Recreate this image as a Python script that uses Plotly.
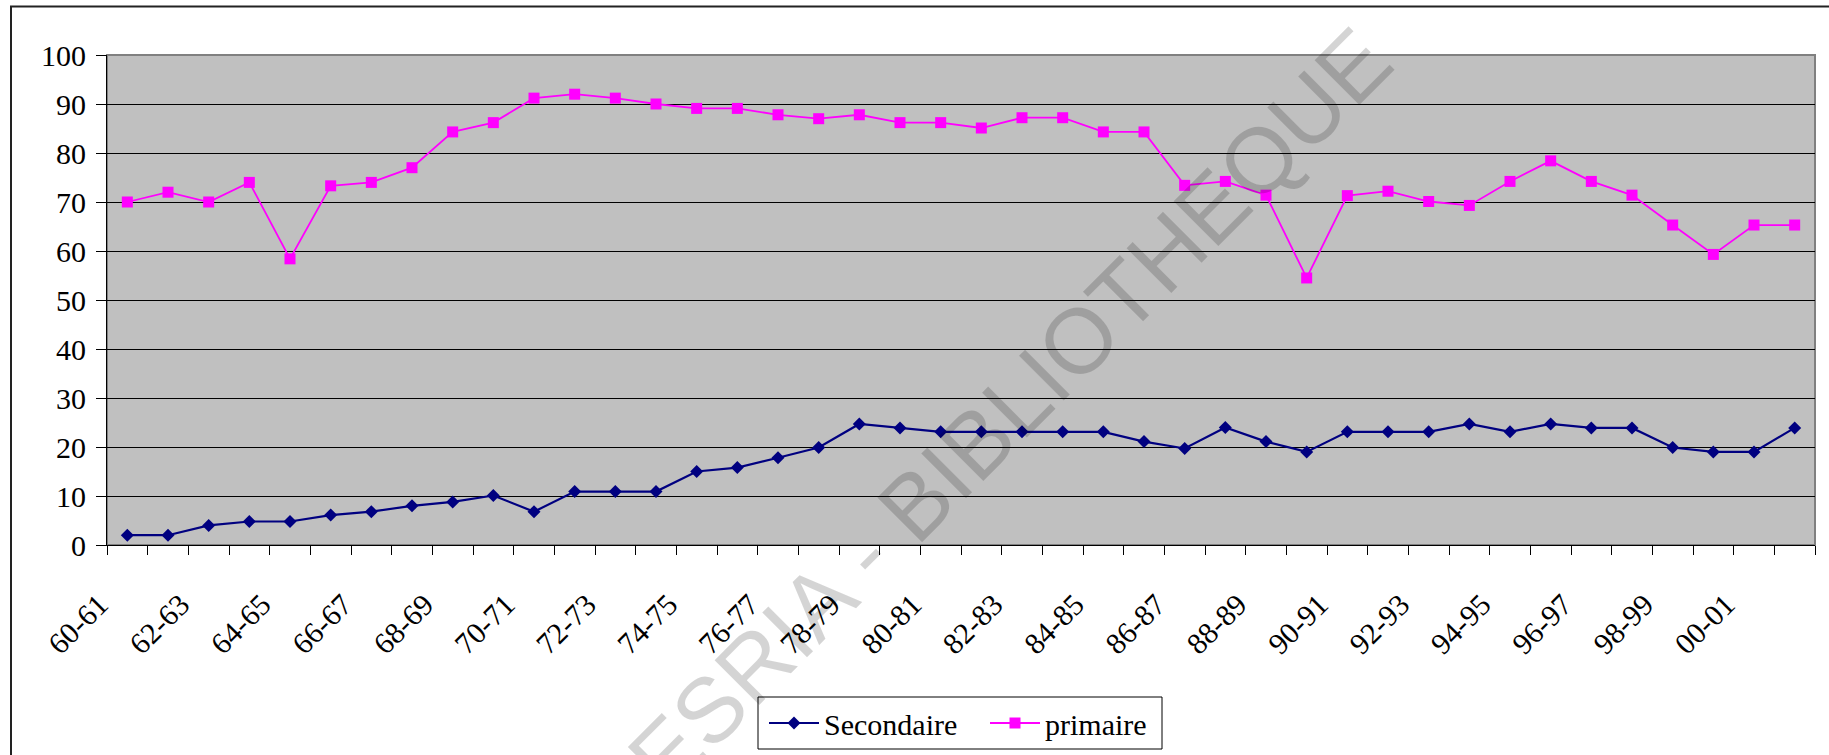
import plotly.graph_objects as go

categories = ["60-61", "61-62", "62-63", "63-64", "64-65", "65-66", "66-67", "67-68",
              "68-69", "69-70", "70-71", "71-72", "72-73", "73-74", "74-75", "75-76",
              "76-77", "77-78", "78-79", "79-80", "80-81", "81-82", "82-83", "83-84",
              "84-85", "85-86", "86-87", "87-88", "88-89", "89-90", "90-91", "91-92",
              "92-93", "93-94", "94-95", "95-96", "96-97", "97-98", "98-99", "99-00",
              "00-01", "01-02"]

secondaire = [2, 2, 4, 4.8, 4.8, 6.1, 6.8, 8, 8.8, 10.1, 6.8, 10.9, 10.9, 10.9, 15, 15.8,
              17.8, 19.9, 24.7, 23.9, 23.1, 23.1, 23.1, 23.1, 23.1, 21.1, 19.7, 24, 21.1, 19,
              23.1, 23.1, 23.1, 24.7, 23.1, 24.7, 23.9, 23.9, 19.9, 19, 19, 23.9]

primaire = [70, 72, 70, 74, 58.4, 73.3, 74, 77, 84.3, 86.2, 91.2, 92, 91.2, 90, 89.1, 89.1,
            87.8, 87, 87.8, 86.2, 86.2, 85.1, 87.2, 87.2, 84.3, 84.3, 73.4, 74.2, 71.4, 54.5,
            71.3, 72.2, 70.1, 69.3, 74.2, 78.4, 74.2, 71.4, 65.3, 59.3, 65.3, 65.3]

y_ticks = [0, 10, 20, 30, 40, 50, 60, 70, 80, 90, 100]
watermark = "CODESRIA - BIBLIOTHEQUE"

W, H = 1829, 755
L, R, T, B = 107, 1815, 55, 545

idx = list(range(len(categories)))
label_idx = idx[::2]

def px_x(v):
    return (v - L) / (R - L)

def px_y(v):
    return (B - v) / (B - T)

fig = go.Figure()
fig.add_trace(go.Scatter(
    x=idx, y=secondaire, name="Secondaire", mode="lines+markers",
    line=dict(color="#000080", width=2.2),
    marker=dict(symbol="diamond", size=10, color="#000080"),
))
fig.add_trace(go.Scatter(
    x=idx, y=primaire, name="primaire", mode="lines+markers",
    line=dict(color="#FF00FF", width=1.8),
    marker=dict(symbol="square", size=11, color="#FF00FF"),
))

serif = "Liberation Serif, Times New Roman, serif"

fig.update_layout(
    width=W, height=H,
    margin=dict(l=L, r=W - R, t=T, b=H - B, pad=0, autoexpand=False),
    paper_bgcolor="white",
    plot_bgcolor="#C0C0C0",
    font=dict(family=serif, size=30, color="black"),
    showlegend=True,
    legend=dict(
        orientation="h", xref="container", yref="container",
        x=764 / W, xanchor="left",
        y=(H - 697) / H, yanchor="top",
        bgcolor="rgba(0,0,0,0)", borderwidth=0,
        font=dict(family=serif, size=30, color="black"),
        itemwidth=50, entrywidth=156,
    ),
    xaxis=dict(
        automargin=False,
        range=[-0.5, len(categories) - 0.5],
        tickmode="array", tickvals=label_idx,
        ticktext=[categories[i] for i in label_idx],
        tickangle=-45, ticks="", showgrid=False, zeroline=False,
        showline=True, linecolor="black", linewidth=1,
        ticklabelstandoff=29, ticklabelshift=-28,
        tickfont=dict(family=serif, size=30, color="black"),
        minor=dict(tickmode="array", tickvals=[i - 0.5 for i in range(len(categories) + 1)],
                   ticks="outside", ticklen=9, tickcolor="black", tickwidth=1, showgrid=False),
    ),
    yaxis=dict(
        automargin=False,
        range=[0, 100], tickmode="array", tickvals=y_ticks,
        ticks="outside", ticklen=10, tickcolor="black", tickwidth=1,
        showgrid=True, gridcolor="black", gridwidth=1,
        zeroline=False, showline=True, linecolor="black", linewidth=1,
        ticklabelstandoff=4,
        tickfont=dict(family=serif, size=30, color="black"),
    ),
)

# plot area border (gray), outer chart border, legend box
fig.add_shape(type="rect", xref="paper", yref="paper", x0=0, y0=0, x1=1, y1=1,
              line=dict(color="#808080", width=2), layer="below")
fig.add_shape(type="rect", xref="paper", yref="paper",
              x0=px_x(11), y0=px_y(6.5), x1=px_x(W + 20), y1=px_y(H + 20),
              line=dict(color="#222222", width=2), layer="below")
fig.add_shape(type="rect", xref="paper", yref="paper",
              x0=px_x(758), y0=px_y(697), x1=px_x(1162), y1=px_y(749),
              line=dict(color="black", width=1), fillcolor="white", layer="above")

fig.add_annotation(
    text=watermark, xref="paper", yref="paper",
    x=px_x(937), y=px_y(482),
    xanchor="center", yanchor="middle", showarrow=False, textangle=-45,
    font=dict(family="Liberation Sans, Arial, sans-serif", size=92, color="rgba(0,0,0,0.17)"),
)

fig.write_html("out.html")
